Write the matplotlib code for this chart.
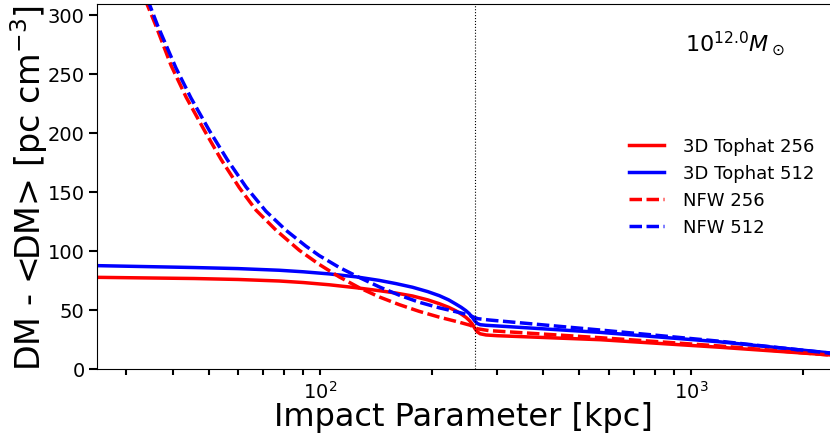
import matplotlib
matplotlib.use("Agg")
import matplotlib.pyplot as plt

# ---- data ----
r_th256 = [25, 45.7, 60, 77.5, 90, 105.8, 125, 144.3, 160, 177.4, 195, 209.4, 222, 232, 240, 247, 252, 257, 261, 265, 270, 280, 300, 569, 1195, 2370]
dm_th256 = [77.6, 76.6, 75.8, 74.5, 73.2, 71.3, 68.8, 66.3, 64.3, 61.8, 58.5, 55.3, 52.2, 49.3, 46.5, 43.8, 41.3, 38.1, 34.5, 31.5, 29.8, 28.8, 28.2, 24.8, 18.4, 11.9]

r_th512 = [25, 45.7, 60, 77.5, 90, 105.8, 125, 144.3, 160, 177.4, 195, 209.4, 222, 232, 240, 247, 252, 257, 261, 265, 270, 280, 298, 569, 1195, 2370]
dm_th512 = [87.5, 85.9, 85.0, 83.6, 82.3, 80.5, 78.0, 75.0, 72.3, 69.2, 65.5, 62.1, 58.5, 55.0, 52.2, 49.4, 47.0, 43.8, 40.8, 38.6, 37.5, 37.0, 36.5, 31.0, 23.0, 13.6]

r_nfw256 = [31, 34.1, 36.1, 39.6, 43.5, 48.7, 54.0, 60.5, 67.1, 76.0, 87.8, 99.4, 112.5, 127.4, 144.3, 163.3, 184.9, 209.4, 237.1, 254, 260, 266, 285, 569, 1195, 2370]
dm_nfw256 = [345, 309, 290, 257, 230, 202, 177.5, 153.5, 134.5, 117.5, 100.5, 88.5, 78.0, 68.8, 61.0, 54.5, 48.8, 43.9, 39.6, 37.0, 35.2, 34.0, 32.5, 26.5, 19.5, 11.8]

r_nfw512 = [31.5, 34.6, 36.4, 40.8, 44.8, 50.2, 56.2, 63.1, 71.4, 80.8, 91.5, 99.4, 112.5, 127.4, 144.3, 163.3, 184.9, 209.4, 237.1, 252, 259, 266, 285, 569, 1195, 2370]
dm_nfw512 = [350, 309, 291, 255, 229.5, 202, 177, 154, 133.5, 117.5, 104, 96, 86, 77.5, 69.5, 62.5, 56.5, 51.8, 47.8, 45.6, 44.0, 42.6, 41.5, 33.0, 23.5, 13.4]

r_vir = 261
labels = ["3D Tophat 256", "3D Tophat 512", "NFW 256", "NFW 512"]
mass_label = r"$10^{12.0}M_\odot$"

fig = plt.figure(figsize=(8.3, 4.35), dpi=100)
ax = fig.add_axes([97/830, 1-370/435, 1-97/830, (370-5)/435])

lw = 2.5
dash = (3.6, 1.3)
ax.plot(r_th256, dm_th256, color="red", lw=lw, label=labels[0])
ax.plot(r_th512, dm_th512, color="blue", lw=lw, label=labels[1])
ax.plot(r_nfw256, dm_nfw256, color="red", lw=lw, ls="--", dashes=dash, label=labels[2])
ax.plot(r_nfw512, dm_nfw512, color="blue", lw=lw, ls="--", dashes=dash, label=labels[3])
ax.axvline(r_vir, color="black", lw=0.8, ls=":")

ax.set_xscale("log")
ax.set_xlim(25, 2370)
ax.set_ylim(0, 309)
ax.spines["right"].set_visible(False)

ax.set_xlabel("Impact Parameter [kpc]", fontsize=23, labelpad=0)
ax.set_ylabel("DM - <DM> [pc cm$^{-3}$]", fontsize=24, labelpad=-2)
ax.tick_params(axis="both", which="both", labelsize=14, width=1.5, direction="out")
ax.tick_params(axis="x", which="both", length=4)
ax.tick_params(axis="y", which="major", length=5.5)

ax.text(0.87, 0.895, mass_label, transform=ax.transAxes, fontsize=16, ha="center", va="center")
ax.legend(loc="center left", bbox_to_anchor=(0.704, 0.5), frameon=False, fontsize=13,
          handlelength=1.95, handletextpad=1.05, labelspacing=0.5)

fig.savefig("out.png", dpi=100)
